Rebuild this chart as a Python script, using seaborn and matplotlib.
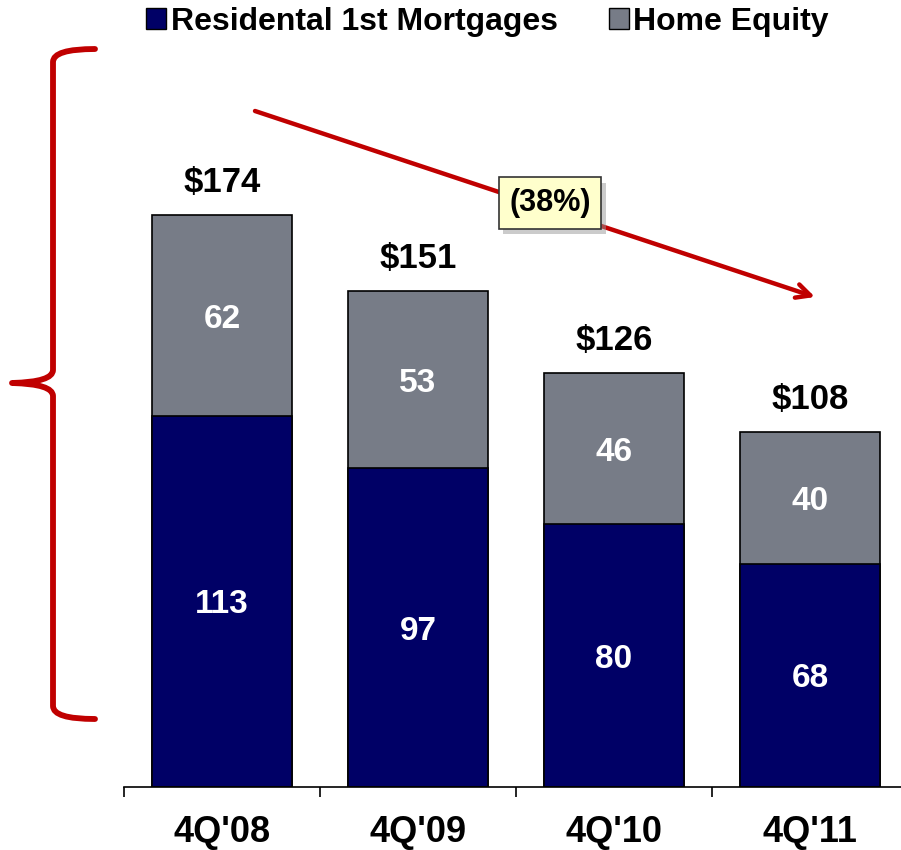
import matplotlib
matplotlib.use("Agg")
import matplotlib.pyplot as plt
import matplotlib.patheffects as pe
from matplotlib.patches import Patch, PathPatch
from matplotlib.path import Path
import pandas as pd
import seaborn as sns

# data
quarters = ["4Q'08", "4Q'09", "4Q'10", "4Q'11"]
residential = [113, 97, 80, 68]
home_equity = [62, 53, 46, 40]
totals = [174, 151, 126, 108]
change_label = "(38%)"

navy = "#000066"
grey = "#777C87"
red = "#C00000"

sns.set_style("white")
plt.rcParams['font.family'] = ['Liberation Sans', 'DejaVu Sans']
plt.rcParams['font.weight'] = 'bold'
plt.rcParams['text.color'] = 'black'
plt.rcParams['xtick.color'] = 'black'

df = pd.DataFrame({'quarter': quarters, 'resid': residential,
                   'heq': home_equity, 'total': totals})

W, H = 901, 850
fig = plt.figure(figsize=(W / 100, H / 100), dpi=100)
ax = fig.add_axes([124 / W, 63 / H, 784 / W, 755.6 / H])

# stacked look: full total bar in grey, residential drawn over it
sns.barplot(data=df, x='quarter', y='total', color=grey, saturation=1,
            width=0.71, edgecolor='black', linewidth=1.2, ax=ax)
sns.barplot(data=df, x='quarter', y='resid', color=navy, saturation=1,
            width=0.71, edgecolor='black', linewidth=1.2, ax=ax)

ax.set_xlim(-0.5, 3.5)
ax.set_ylim(0, 230)
ax.set_xlabel("")
ax.set_ylabel("")
ax.set_yticks([])
for s in ['left', 'right', 'top']:
    ax.spines[s].set_visible(False)
ax.spines['bottom'].set_linewidth(1.2)
ax.spines['bottom'].set_color('black')

ax.set_xticks(range(len(quarters)))
ax.set_xticklabels(quarters, fontsize=26, fontweight='bold', color='black')
ax.tick_params(axis='x', which='major', length=0, pad=20)
ax.set_xticks([-0.5, 0.5, 1.5, 2.5, 3.5], minor=True)
ax.tick_params(axis='x', which='minor', bottom=True, length=7, width=1.2,
               direction='out', color='black')

# segment and total labels
for i in range(len(quarters)):
    r = residential[i]
    t = totals[i]
    ax.text(i, r / 2, str(r), ha='center', va='center_baseline', color='white',
            fontsize=24, fontweight='bold')
    ax.text(i, r + (t - r) / 2, str(home_equity[i]), ha='center',
            va='center_baseline', color='white', fontsize=24, fontweight='bold')
    ax.annotate(f"${t}", xy=(i, t), xytext=(0, 26), textcoords='offset points',
                ha='center', va='center_baseline', fontsize=25, fontweight='bold',
                color='black')

# legend
handles = [Patch(facecolor=navy, edgecolor='black', label='Residental 1st Mortgages'),
           Patch(facecolor=grey, edgecolor='black', label='Home Equity')]
leg = fig.legend(handles=handles, loc='center', bbox_to_anchor=(487.5 / W, 1 - 22 / H),
                 ncol=2, frameon=False, handlelength=0.62,
                 handleheight=0.62, handletextpad=0.15, columnspacing=1.6,
                 prop={'weight': 'bold', 'size': 23})
for t in leg.get_texts():
    t.set_color('black')


def fp(x, y):
    return (x / W, 1 - y / H)


# red arrow
ax.annotate("", xy=fp(815, 297), xytext=fp(255, 111), xycoords='figure fraction',
            textcoords='figure fraction',
            arrowprops=dict(arrowstyle='->,head_length=1.0,head_width=0.5',
                            color=red, lw=3.2, shrinkA=0, shrinkB=0))

box_text = fig.text(550 / W, 1 - 203 / H, change_label, ha='center', va='center',
                    fontsize=22, fontweight='bold', color='black',
                    bbox=dict(boxstyle='square,pad=0.35', facecolor='#FFFFCC',
                              edgecolor='#333333', linewidth=1.2))
box_text.get_bbox_patch().set_path_effects([
    pe.SimplePatchShadow(offset=(3, -4), shadow_rgbFace='#999999', alpha=0.5),
    pe.Normal()])

# red brace on the left
pts = [fp(95, 49), fp(53, 49), fp(53, 62), fp(53, 370), fp(53, 382), fp(12, 383),
       fp(53, 384), fp(53, 396), fp(53, 706), fp(53, 719), fp(95, 719)]
codes = [Path.MOVETO, Path.CURVE3, Path.CURVE3, Path.LINETO, Path.CURVE3, Path.CURVE3,
         Path.CURVE3, Path.CURVE3, Path.LINETO, Path.CURVE3, Path.CURVE3]
brace = PathPatch(Path(pts, codes), facecolor='none', edgecolor=red, lw=4.2,
                  capstyle='round', joinstyle='round', transform=fig.transFigure)
fig.add_artist(brace)

fig.savefig("out.png", dpi=100)
